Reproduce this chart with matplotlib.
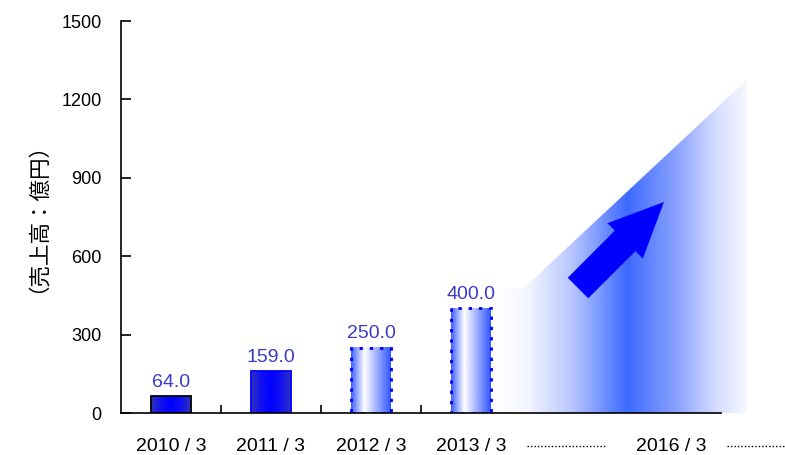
import numpy as np
import matplotlib
matplotlib.use("Agg")
import matplotlib.pyplot as plt
from matplotlib.patches import Polygon, FancyArrow, Rectangle
from matplotlib.colors import LinearSegmentedColormap
import matplotlib.transforms as mtransforms

plt.rcParams['font.family'] = ['Liberation Sans', 'Noto Sans CJK JP', 'DejaVu Sans']

# ---- data ----
categories = ["2010 / 3", "2011 / 3", "2012 / 3", "2013 / 3"]
values = [64.0, 159.0, 250.0, 400.0]
future_label = "2016 / 3"
forecast_low = 475      # level where the projection wedge starts
forecast_high = 1275    # level the projection wedge reaches
yticks = [0, 300, 600, 900, 1200, 1500]
ylabel = "（売上高：億円）"

fig = plt.figure(figsize=(7.85, 4.55), dpi=100)
ax = fig.add_axes([121/785, 42/455, 630/785, 392/455])
ax.set_xlim(0, 6.3)
ax.set_ylim(0, 1500)

x = np.arange(len(values)) + 0.5
bw = 0.4

# gradients
solid_cmap = LinearSegmentedColormap.from_list("solid", ["#3333bb", "#1010f0", "#0000ff", "#1010f0", "#3333bb"])
light_cmap = LinearSegmentedColormap.from_list("light", ["#3a5cff", "#ffffff", "#9aaaff", "#2f55ff"])
grad = np.linspace(0, 1, 256).reshape(1, -1)

for i, (xi, v) in enumerate(zip(x, values)):
    solid = i < 2
    cmap = solid_cmap if solid else light_cmap
    ax.imshow(grad, cmap=cmap, extent=(xi - bw/2, xi + bw/2, 0, v), aspect='auto', zorder=2)
    if solid:
        ec = 'black' if i == 0 else '#0000ff'
        ax.add_patch(Rectangle((xi - bw/2, 0), bw, v, fill=False, ec=ec, lw=1.3, zorder=3))
    else:
        ax.add_patch(Rectangle((xi - bw/2, 0), bw, v, fill=False, ec='#0000ff', lw=2.0,
                               ls=(0, (1.2, 2.5)), zorder=3))
    ax.annotate(f"{v:.1f}", (xi, v), xytext=(0, 4), textcoords='offset points',
                ha='center', va='bottom', fontsize=14, color='#3b3bc6')

# projection wedge
x0, x1, x2 = 3.76, 4.02, 6.26
wedge = Polygon([(x0, 0), (x0, forecast_low), (x1, forecast_low), (x2, forecast_high), (x2, 0)],
                closed=True, fc='none', ec='none', transform=ax.transData)
ax.add_patch(wedge)
wcmap = LinearSegmentedColormap.from_list(
    "wedge", [(0, "#ffffff"), (0.12, "#f4f6ff"), (0.3, "#b8c6ff"), (0.52, "#3d6bff"),
              (0.72, "#8aa2ff"), (0.88, "#d6ddff"), (1.0, "#f7f8ff")])
im = ax.imshow(grad, cmap=wcmap, extent=(x0, x2, 0, forecast_high), aspect='auto', zorder=1)
im.set_clip_path(wedge)

# arrow (figure inches)
arr = FancyArrow(5.78, 4.55 - 2.88, 0.86, 0.86, width=0.29, head_width=0.50, head_length=0.55,
                 length_includes_head=True, transform=fig.dpi_scale_trans,
                 fc='#0000ff', ec='none', zorder=5)
fig.patches.append(arr)

# spines
for s in ['top', 'right']:
    ax.spines[s].set_visible(False)
ax.spines['bottom'].set_bounds(0, 6)
ax.spines['left'].set_linewidth(1.2)
ax.spines['bottom'].set_linewidth(1.2)
ax.spines['left'].set_zorder(4)
ax.spines['bottom'].set_zorder(4)

ax.set_yticks(yticks)
ax.set_yticklabels([str(t) for t in yticks], fontsize=13)
ax.tick_params(axis='y', direction='in', length=7, width=1.2, pad=14)

ax.set_xticks([1, 2, 3])
ax.set_xticklabels([])
ax.tick_params(axis='x', which='major', direction='in', length=6, width=1.2)
ax.set_xticks(list(x) + [5.5], minor=True)
ax.set_xticklabels(categories + [future_label], minor=True, fontsize=14)
ax.tick_params(axis='x', which='minor', length=0, pad=18)

# dotted leaders in label row
trans = mtransforms.blended_transform_factory(ax.transData, ax.transAxes)
ax.plot([4.06, 4.86], [-0.085, -0.085], transform=trans, color='black', lw=1.0,
        ls=(0, (1, 1.5)), clip_on=False)
ax.plot([6.06, 6.64], [-0.085, -0.085], transform=trans, color='black', lw=1.0,
        ls=(0, (1, 1.5)), clip_on=False)

fig.text(27/785, 1 - 207/455, ylabel, rotation=90, ha='center', va='center', fontsize=15.5,
         family=['Noto Sans CJK JP', 'DejaVu Sans'])

fig.savefig("out.png", dpi=100)
